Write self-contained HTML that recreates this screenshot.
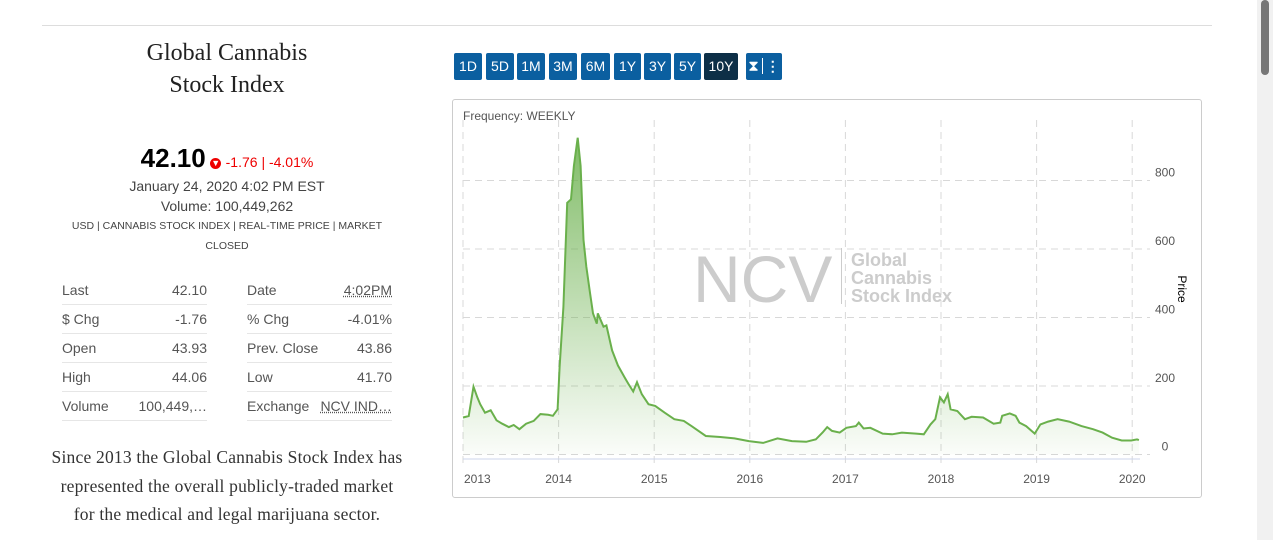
<!DOCTYPE html>
<html><head><meta charset="utf-8"><style>
body{margin:0;width:1273px;height:540px;overflow:hidden;background:#fff;font-family:"Liberation Sans",sans-serif;position:relative}
.a{position:absolute}
.title{left:42px;width:370px;top:37px;text-align:center;font-family:"Liberation Serif",serif;font-size:24px;line-height:32px;color:#222}
table{border-collapse:collapse;font-size:14px;color:#555}
td{height:28px;border-bottom:1px solid #e6e6e6;padding:0}
.btn{top:53px;height:27px;background:#0b5fa0;color:#fff;font-size:14px;line-height:27px;text-align:center;border-radius:2px}
</style></head><body>
<div class="a" style="left:42px;top:25px;width:1170px;height:1px;background:#ddd"></div>
<div class="a" style="left:1257px;top:0;width:16px;height:540px;background:#f1f1f1"><div style="margin-left:4px;width:8px;height:75px;background:#777;border-radius:4px"></div></div>
<div class="a title">Global Cannabis<br>Stock Index</div>
<div class="a" style="left:42px;width:370px;top:143px;text-align:center">
<span style="font-size:26px;font-weight:bold;color:#000">42.10</span>
<span style="display:inline-block;width:11px;height:11px;border-radius:50%;background:#e00;color:#fff;font-size:9px;line-height:11px;vertical-align:1px">▼</span>
<span style="color:#e00;font-size:14px">-1.76 | -4.01%</span></div>
<div class="a" style="left:42px;width:370px;top:176px;text-align:center;font-size:14px;color:#444;line-height:20px">January 24, 2020 4:02 PM EST<br>Volume: 100,449,262</div>
<div class="a" style="left:67px;width:320px;top:216px;text-align:center;font-size:10.5px;color:#444;line-height:20px">USD | CANNABIS STOCK INDEX | REAL-TIME PRICE | MARKET CLOSED</div>
<table class="a" style="left:62px;top:276px;width:145px">
<tr><td>Last</td><td style="text-align:right">42.10</td></tr><tr><td>$ Chg</td><td style="text-align:right">-1.76</td></tr><tr><td>Open</td><td style="text-align:right">43.93</td></tr><tr><td>High</td><td style="text-align:right">44.06</td></tr><tr><td>Volume</td><td style="text-align:right">100,449,…</td></tr></table>
<table class="a" style="left:247px;top:276px;width:145px">
<tr><td>Date</td><td style="text-align:right;text-decoration:underline dotted">4:02PM</td></tr><tr><td>% Chg</td><td style="text-align:right">-4.01%</td></tr><tr><td>Prev. Close</td><td style="text-align:right">43.86</td></tr><tr><td>Low</td><td style="text-align:right">41.70</td></tr><tr><td>Exchange</td><td style="text-align:right;text-decoration:underline dotted">NCV IND…</td></tr></table>
<div class="a" style="left:27px;width:400px;top:443px;text-align:center;font-family:'Liberation Serif',serif;font-size:17.5px;letter-spacing:0.2px;line-height:28.5px;color:#333">Since 2013 the Global Cannabis Stock Index has<br>represented the overall publicly-traded market<br>for the medical and legal marijuana sector.</div>
<div class="a btn" style="left:454px;width:28px">1D</div>
<div class="a btn" style="left:486px;width:28px">5D</div>
<div class="a btn" style="left:517px;width:28px">1M</div>
<div class="a btn" style="left:549px;width:28px">3M</div>
<div class="a btn" style="left:581px;width:29px">6M</div>
<div class="a btn" style="left:614px;width:27px">1Y</div>
<div class="a btn" style="left:644px;width:27px">3Y</div>
<div class="a btn" style="left:674px;width:27px">5Y</div>
<div class="a btn" style="left:704px;width:34px;background:#0d2f47">10Y</div>
<div class="a btn" style="left:746px;width:36px"><span style="font-size:15px">⧗</span><span style="border-left:1px solid #fff;margin-left:3px;padding-left:3px;font-weight:bold">⋮</span></div>
<div class="a" style="left:452px;top:99px;width:748px;height:397px;border:1px solid #ccc;border-radius:3px"></div>
<svg class="a" id="chart" style="left:0;top:0" width="1273" height="540">
<defs><linearGradient id="g" x1="0" y1="0" x2="0" y2="1"><stop offset="0" stop-color="#6ab04c" stop-opacity="0.85"/><stop offset="1" stop-color="#6ab04c" stop-opacity="0.03"/></linearGradient></defs>
<text x="463" y="120" font-size="12" fill="#555">Frequency: WEEKLY</text>
<g id="grid"></g>
<g fill="#ccc"><text x="693" y="302" font-size="66">NCV</text><rect x="841" y="248" width="1" height="56"/><text x="851" y="266" font-size="18" font-weight="bold">Global</text><text x="851" y="284" font-size="18" font-weight="bold">Cannabis</text><text x="851" y="302" font-size="18" font-weight="bold">Stock Index</text></g>
<g id="series"></g>
<text transform="translate(1178,289) rotate(90)" text-anchor="middle" font-size="12" fill="#000">Price</text>
</svg>
<script>
const xTicks=[2013,2014,2015,2016,2017,2018,2019,2020];
const yTicks=[0,200,400,600,800];
const dates=[2013.0,2013.06,2013.11,2013.15,2013.18,2013.23,2013.29,2013.35,2013.41,2013.48,2013.53,2013.59,2013.66,2013.74,2013.81,2013.89,2013.94,2013.99,2014.01,2014.05,2014.09,2014.13,2014.16,2014.2,2014.23,2014.26,2014.29,2014.33,2014.36,2014.4,2014.41,2014.47,2014.5,2014.56,2014.62,2014.69,2014.73,2014.78,2014.82,2014.87,2014.94,2015.01,2015.11,2015.21,2015.31,2015.39,2015.54,2015.69,2015.84,2015.99,2016.14,2016.29,2016.44,2016.59,2016.69,2016.76,2016.81,2016.86,2016.94,2017.01,2017.11,2017.14,2017.19,2017.26,2017.39,2017.49,2017.59,2017.74,2017.82,2017.89,2017.94,2017.99,2018.03,2018.07,2018.1,2018.17,2018.25,2018.32,2018.44,2018.55,2018.62,2018.64,2018.72,2018.78,2018.82,2018.89,2018.98,2019.04,2019.12,2019.22,2019.34,2019.47,2019.59,2019.69,2019.79,2019.89,2019.99,2020.05,2020.07];
const prices=[108,112,198,167,147,122,129,100,90,80,86,74,90,98,118,116,113,132,255,431,735,745,843,925,843,627,549,470,412,382,412,373,377,304,260,225,206,184,211,176,147,142,122,103,98,83,54,51,47,39,34,47,39,37,44,64,80,69,64,78,83,93,76,78,61,59,64,61,59,88,103,167,152,176,132,127,103,110,108,90,93,113,120,113,93,83,61,88,96,103,96,83,74,64,49,41,41,44,42];
const X=d=>463+(d-2013)*95.6, Y=v=>454.5-v*0.3425;
const ns='http://www.w3.org/2000/svg';
const grid=document.getElementById('grid'), ser=document.getElementById('series');
function mk(t,a,p){const e=document.createElementNS(ns,t);for(const k in a)e.setAttribute(k,a[k]);p.appendChild(e);return e;}
yTicks.forEach(v=>{const l=mk('line',{x1:463,x2:1150,y1:Y(v),y2:Y(v),stroke:'#d8d8d8','stroke-dasharray':'7,5'},grid);


const t=mk('text',{x:1165,y:Y(v)-4,'font-size':12,fill:'#555','text-anchor':'middle'},grid);t.textContent=v;

});
xTicks.forEach(d=>{const l=mk('line',{x1:X(d),x2:X(d),y1:120,y2:465,stroke:'#d8d8d8','stroke-dasharray':'7,5'},grid);


const t=mk('text',{x:X(d)+(d===2013?1:0),y:483,'font-size':12,fill:'#555','text-anchor':d===2013?'start':'middle'},grid);t.textContent=d;

});
const ax=mk('line',{x1:463,x2:1140,y1:459,y2:459,stroke:'#ccd6eb'},grid);


const pts=dates.map((d,i)=>X(d).toFixed(1)+','+Y(prices[i]).toFixed(1));
const area=mk('path',{d:'M'+X(dates[0])+','+Y(0)+'L'+pts.join('L')+'L'+X(dates[dates.length-1])+','+Y(0)+'Z',fill:'url(#g)'},ser);


const line=mk('path',{d:'M'+pts.join('L'),fill:'none',stroke:'#6ab04c','stroke-width':2},ser);


</script>
</body></html>
